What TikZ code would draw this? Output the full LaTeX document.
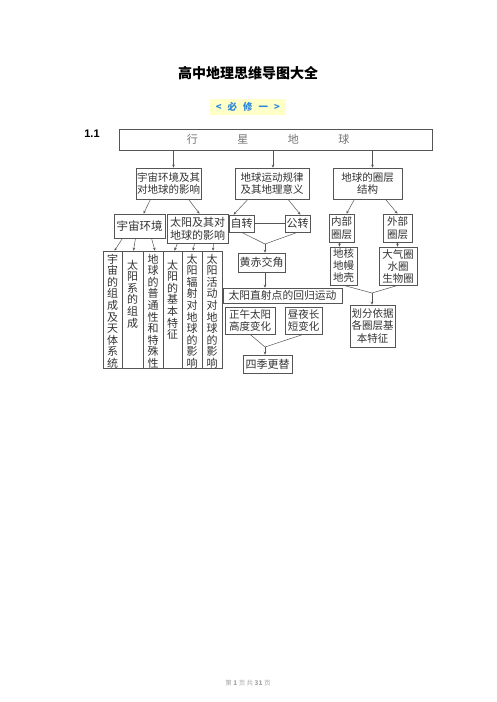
\documentclass[tikz,border=0pt]{standalone}
\usepackage{fontspec}
\newfontfamily\cjk{Noto Sans CJK SC}
\newfontfamily\lib{Liberation Sans}
\usetikzlibrary{arrows.meta,calc}
\definecolor{ln}{HTML}{555555}
\definecolor{tx}{HTML}{333333}
\definecolor{blu}{HTML}{2A86D8}
\definecolor{yel}{HTML}{FFFFC8}
\begin{document}
\begin{tikzpicture}[x=1pt,y=-1pt,
  box/.style={draw=ln,line width=0.6pt,inner sep=0pt,text=tx,align=center,font=\cjk\fontsize{10.5}{12.5}\selectfont},
  vbox/.style={draw=ln,line width=0.6pt,inner sep=0pt,minimum width=19pt,minimum height=117pt},
  vtxt/.style={inner sep=0pt,text=tx,align=center,font=\cjk\fontsize{11}{11.6}\selectfont},
  arr/.style={draw=ln,line width=0.5pt,-{Stealth[length=3pt,width=2.6pt]}},
  ln/.style={draw=ln,line width=0.5pt}]
\useasboundingbox (0,0) rectangle (496,702);
\fill[white] (0,0) rectangle (496,702);
% title
\node[font=\cjk\bfseries\fontsize{14}{16}\selectfont] (title) at (248,73) {高中地理思维导图大全};
\node[fill=yel,inner xsep=6pt,inner ysep=3pt,text=blu,font=\cjk\bfseries\fontsize{9.5}{11}\selectfont] (bx) at (248,107) {<\hspace{6pt}必\hspace{6pt}修\hspace{6pt}一\hspace{6pt}>};
\node[font=\lib\bfseries\fontsize{11}{13}\selectfont] (num) at (92,134) {1.1};
% top
\node[box,minimum width=313pt,minimum height=21pt] (top) at (275.5,139.5) {};
\node[text=gray!90!black,font=\cjk\fontsize{11}{13}\selectfont,inner sep=0pt] (toptxt) at (268,139.5) {行\hspace{39.5pt}星\hspace{39.5pt}地\hspace{39.5pt}球};
% row 2
\node[box,minimum width=65pt,minimum height=31pt] (A) at (168.5,183.5) {宇宙环境及其\\对地球的影响};
\node[box,minimum width=74pt,minimum height=31pt] (B) at (272,183.5) {地球运动规律\\及其地理意义};
\node[box,minimum width=69pt,minimum height=31pt] (C) at (367.5,183.5) {地球的圈层\\结构};
\draw[arr] ([xshift=5pt]A.north |- top.south) -- ([xshift=5pt]A.north);
\draw[arr] ([xshift=1pt]B.north |- top.south) -- ([xshift=1pt]B.north);
\draw[arr] ([xshift=5pt]C.north |- top.south) -- ([xshift=5pt]C.north);
% row 3 left
\node[box,minimum width=51pt,minimum height=24pt,font=\cjk\fontsize{11.5}{13}\selectfont] (yz) at (139.5,226) {宇宙环境};
\node[box,minimum width=61pt,minimum height=29pt,font=\cjk\fontsize{11}{13}\selectfont] (ty) at (197.5,228.5) {太阳及其对\\地球的影响};
\draw[arr] ([xshift=-18pt]A.south) -- ([xshift=4pt]yz.north);
\draw[arr] ([xshift=20pt]A.south) -- ([xshift=2pt]ty.north);
% vertical boxes
\node[vbox] (v1) at (112.5,309.5) {};
\node[vbox,minimum width=21pt] (v2) at (132.5,309.5) {};
\node[vbox,minimum width=20pt] (v3) at (153,309.5) {};
\node[vbox] (v4) at (172.5,309.5) {};
\node[vbox,minimum width=20pt] (v5) at (192,309.5) {};
\node[vbox,minimum width=20pt] (v6) at (212,309.5) {};
\node[vtxt,anchor=north] (t1) at ([yshift=-3pt]v1.north) {宇\\宙\\的\\组\\成\\及\\天\\体\\系\\统};
\node[vtxt,anchor=north] (t2) at ([yshift=-9pt]v2.north) {太\\阳\\系\\的\\组\\成};
\node[vtxt,anchor=north] (t3) at ([yshift=-3pt]v3.north) {地\\球\\的\\普\\通\\性\\和\\特\\殊\\性};
\node[vtxt,anchor=north] (t4) at ([yshift=-9pt]v4.north) {太\\阳\\的\\基\\本\\特\\征};
\node[vtxt,anchor=north] (t5) at ([yshift=-3pt]v5.north) {太\\阳\\辐\\射\\对\\地\\球\\的\\影\\响};
\node[vtxt,anchor=north] (t6) at ([yshift=-3pt]v6.north) {太\\阳\\活\\动\\对\\地\\球\\的\\影\\响};
\draw[arr] ([xshift=-17pt]yz.south) -- ([xshift=2pt]v1.north);
\draw[arr] ([xshift=-4pt]yz.south) -- ([xshift=1pt]v2.north);
\draw[arr] ([xshift=12pt]yz.south) -- ([xshift=2pt]v3.north);
\draw[arr] ([xshift=-20pt]ty.south) -- ([xshift=2pt]v4.north);
\draw[arr] ([xshift=-3pt]ty.south) -- ([xshift=1pt]v5.north);
\draw[arr] ([xshift=16pt]ty.south) -- ([xshift=1pt]v6.north);
% middle
\node[box,minimum width=25pt,minimum height=17pt,font=\cjk\fontsize{11}{13}\selectfont] (zz) at (241.5,223.5) {自转};
\node[box,minimum width=25pt,minimum height=17pt,font=\cjk\fontsize{11}{13}\selectfont] (gz) at (297.5,223.5) {公转};
\draw[ln] (zz.east) -- (gz.west);
\draw[arr] ([xshift=-24pt]B.south) -- ([xshift=-8pt]zz.north);
\draw[arr] ([xshift=16pt]B.south) -- ([xshift=3pt]gz.north);
\node[box,minimum width=47pt,minimum height=19pt,font=\cjk\fontsize{11}{13}\selectfont] (hc) at (261.5,262.5) {黄赤交角};
\coordinate (m1) at (265,244);
\draw[ln] (zz.south) -- (m1) -- (gz.south);
\draw[arr] (m1) -- (m1 |- hc.north);
\node[box,minimum width=119pt,minimum height=15pt,font=\cjk\fontsize{10.8}{12}\selectfont] (zs) at (282.5,295.5) {太阳直射点的回归运动};
\draw[arr] ([xshift=3.5pt]hc.south) -- ([xshift=3.5pt]hc.south |- zs.north);
\node[box,minimum width=50pt,minimum height=27pt] (zw) at (250,320.5) {正午太阳\\高度变化};
\node[box,minimum width=37pt,minimum height=27pt] (zy) at (303.5,320.5) {昼夜长\\短变化};
\node[box,minimum width=49pt,minimum height=18pt,font=\cjk\fontsize{11}{13}\selectfont] (sj) at (267.5,364) {四季更替};
\coordinate (m2) at (265,347);
\draw[ln] (zw.south) -- (m2) -- (zy.south);
\draw[arr] (m2) -- (m2 |- sj.north);
% right
\node[box,minimum width=25pt,minimum height=28pt] (nb) at (341.5,228) {内部\\圈层};
\node[box,minimum width=29pt,minimum height=28pt] (wb) at (397.5,228) {外部\\圈层};
\draw[arr] ([xshift=-13pt]C.south) -- ([xshift=5pt]nb.north);
\draw[arr] ([xshift=18pt]C.south) -- (wb.north);
\node[box,minimum width=27pt,minimum height=38pt,font=\cjk\fontsize{10.5}{12}\selectfont] (dh) at (343.5,266) {地核\\地幔\\地壳};
\node[box,minimum width=38pt,minimum height=38pt,font=\cjk\fontsize{10.5}{12}\selectfont] (dq) at (398,266) {大气圈\\水圈\\生物圈};
\draw[arr] ([xshift=-2pt]nb.south) -- ([xshift=-2pt]nb.south |- dh.north);
\draw[arr] (wb.south) -- (wb.south |- dq.north);
\node[box,minimum width=45pt,minimum height=42pt,font=\cjk\fontsize{10.5}{12.5}\selectfont] (hf) at (372.5,326) {划分依据\\各圈层基\\本特征};
\coordinate (m3) at (372,293);
\draw[ln] (dh.south) -- (m3) -- (dq.south);
\draw[arr] (m3) -- (m3 |- hf.north);
% footer
\node[text=gray!70,font=\cjk\fontsize{6.5}{8}\selectfont] (ft) at (248,683) {第 \textbf{1} 页 共 \textbf{31} 页};
\end{tikzpicture}
\end{document}
